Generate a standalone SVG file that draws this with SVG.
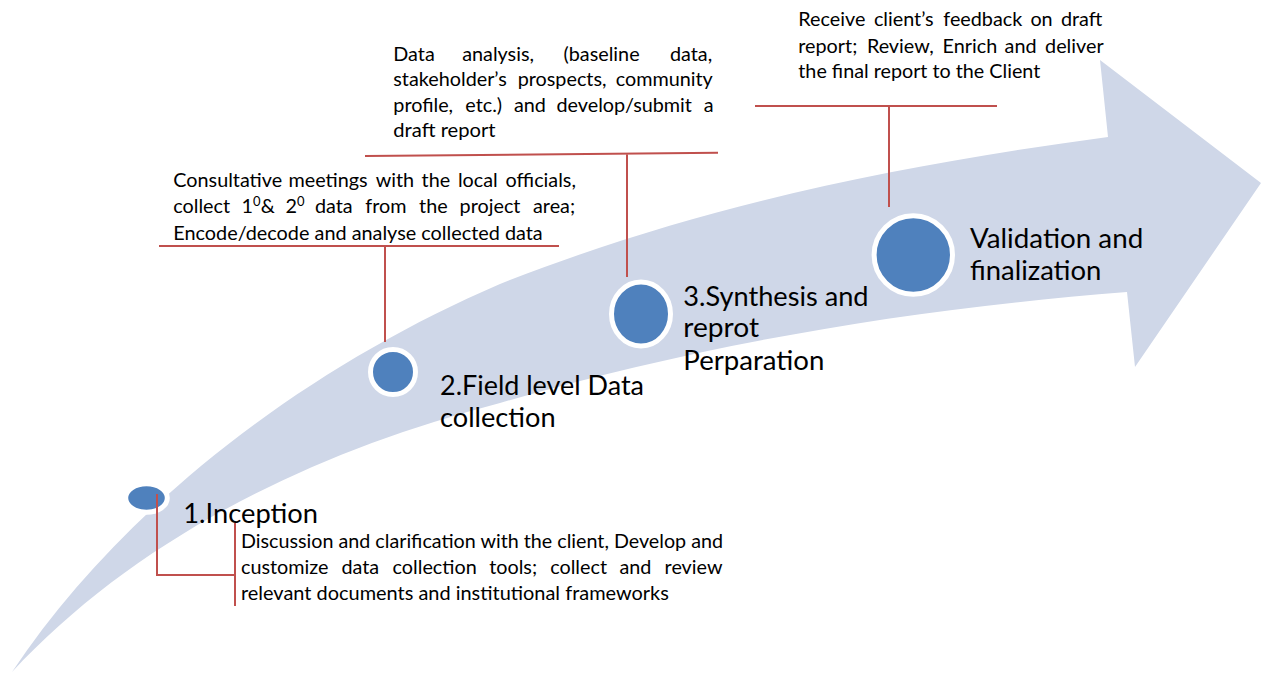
<svg xmlns="http://www.w3.org/2000/svg" width="1261" height="673" viewBox="0 0 1261 673">
  <style>
    .arrow { fill: #cfd7e8; }
    .dot { fill: #4f81bd; stroke: #ffffff; stroke-width: 5; }
    .lead { fill: none; stroke: #c0504d; stroke-width: 2; }
    .step { font-family: Lato, "Open Sans", sans-serif; font-size: 27.3px; fill: #000000; }
    .para { font-family: Lato, "Open Sans", sans-serif; font-size: 19.8px; fill: #000000; }
    .sup { font-size: 13px; }
  </style>

  <rect width="1261" height="673" fill="#ffffff"/>

  <!-- curved process arrow -->
  <path class="arrow" d="M12,672 C120,510 300,370 500,284 C700,205 900,165 1108,137 L1100,60 L1261,183 L1135,367 L1127,292 C900,310 700,345 500,403 C300,455 130,545 12,672 Z"/>

  <!-- step 1 -->
  <g id="step-inception">
    <ellipse class="dot" cx="146.5" cy="498" rx="20.8" ry="14.3" stroke-width="4.5"/>
    <text class="step" x="183.3" y="523.3" textLength="134.7" lengthAdjust="spacingAndGlyphs">1.Inception</text>
    <text class="para" x="241" y="548" textLength="482" lengthAdjust="spacingAndGlyphs">Discussion and clarification with the client, Develop and</text>
    <text class="para" y="574"><tspan x="241">customize</tspan><tspan x="341.4">data</tspan><tspan x="392.6">collection</tspan><tspan x="489.2">tools;</tspan><tspan x="550.2">collect</tspan><tspan x="619.5">and</tspan><tspan x="664.6">review</tspan></text>
    <text class="para" x="241" y="600" textLength="427.8" lengthAdjust="spacingAndGlyphs">relevant documents and institutional frameworks</text>
  </g>

  <!-- step 2 -->
  <g id="step-field">
    <circle class="dot" cx="393" cy="372" r="22.5"/>
    <text class="step" x="440" y="395" textLength="204" lengthAdjust="spacingAndGlyphs">2.Field level Data</text>
    <text class="step" x="440" y="426.7" textLength="115.6" lengthAdjust="spacingAndGlyphs">collection</text>
    <text class="para" y="187.3"><tspan x="173.3">Consultative</tspan><tspan x="288.5">meetings</tspan><tspan x="375.7">with</tspan><tspan x="421.6">the</tspan><tspan x="457.9">local</tspan><tspan x="505.6">officials,</tspan></text>
    <text class="para" y="213.3"><tspan x="173.3">collect</tspan><tspan x="241.6">1</tspan><tspan class="sup" dy="-7">0</tspan><tspan dy="7">&amp;</tspan><tspan x="285.6">2</tspan><tspan class="sup" dy="-7">0</tspan><tspan x="315" dy="7">data</tspan><tspan x="365.3">from</tspan><tspan x="419.1">the</tspan><tspan x="459.6">project</tspan><tspan x="533">area;</tspan></text>
    <text class="para" x="173.3" y="240" textLength="369.4" lengthAdjust="spacingAndGlyphs">Encode/decode and analyse collected data</text>
  </g>

  <!-- step 3 -->
  <g id="step-synthesis">
    <ellipse class="dot" cx="641" cy="314" rx="29.5" ry="32"/>
    <text class="step" x="683.3" y="305.5" textLength="185.2" lengthAdjust="spacingAndGlyphs">3.Synthesis and</text>
    <text class="step" x="683.3" y="337" textLength="75.7" lengthAdjust="spacingAndGlyphs">reprot</text>
    <text class="step" x="683.3" y="369.5" textLength="141" lengthAdjust="spacingAndGlyphs">Perparation</text>
    <text class="para" y="60.7"><tspan x="393.3">Data</tspan><tspan x="462.2">analysis,</tspan><tspan x="563.5">(baseline</tspan><tspan x="670">data,</tspan></text>
    <text class="para" y="86"><tspan x="393.3">stakeholder’s</tspan><tspan x="517.7">prospects,</tspan><tspan x="615.7">community</tspan></text>
    <text class="para" y="111.7"><tspan x="393.3">profile,</tspan><tspan x="465.3">etc.)</tspan><tspan x="513.9">and</tspan><tspan x="556.5">develop/submit</tspan><tspan x="703.8">a</tspan></text>
    <text class="para" x="393.3" y="137.3" textLength="102.3" lengthAdjust="spacingAndGlyphs">draft report</text>
  </g>

  <!-- step 4 -->
  <g id="step-validation">
    <circle class="dot" cx="913.3" cy="255" r="39.2"/>
    <text class="step" x="970" y="248.3" textLength="173.2" lengthAdjust="spacingAndGlyphs">Validation and</text>
    <text class="step" x="970" y="280" textLength="131.4" lengthAdjust="spacingAndGlyphs">finalization</text>
    <text class="para" y="26"><tspan x="798.3">Receive</tspan><tspan x="873.9">client’s</tspan><tspan x="943.3">feedback</tspan><tspan x="1030.4">on</tspan><tspan x="1060.9">draft</tspan></text>
    <text class="para" y="52.7"><tspan x="798.3">report;</tspan><tspan x="866.9">Review,</tspan><tspan x="942.6">Enrich</tspan><tspan x="1004.6">and</tspan><tspan x="1045.1">deliver</tspan></text>
    <text class="para" x="798.3" y="77.7" textLength="242" lengthAdjust="spacingAndGlyphs">the final report to the Client</text>
  </g>

  <!-- leader lines linking each step to its description -->
  <g id="connectors">
    <path class="lead" d="M157,494 V575 H235 M235,523 V606"/>
    <path class="lead" d="M159,246 H559 M385,246 V342"/>
    <path class="lead" d="M365,156 L718,152.7 M627,154.5 V277"/>
    <path class="lead" d="M755,106 H997 M889,106 V207"/>
  </g>
</svg>
